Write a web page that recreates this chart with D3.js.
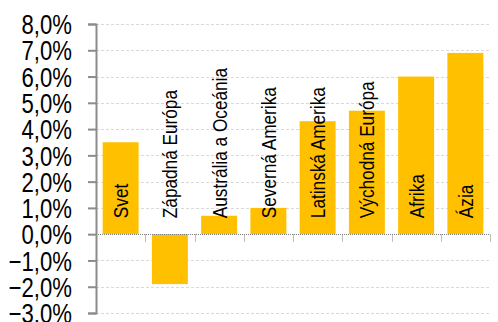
<!DOCTYPE html>
<html>
<head>
<meta charset="utf-8">
<script src="https://cdn.jsdelivr.net/npm/d3@7"></script>
<style>
  body { margin: 0; background: #fff; }
  text { font-family: "Liberation Sans", Arial, sans-serif; }
</style>
</head>
<body>
<div id="wrapper"></div>
<script>
// data
const categories = ["Svet", "Západná Európa", "Austrália a Oceánia", "Severná Amerika",
  "Latinská Amerika", "Východná Európa", "Afrika", "Ázia"]
const values = [3.5, -1.9, 0.7, 1.0, 4.3, 4.7, 6.0, 6.9]
const yTicks = [-3, -2, -1, 0, 1, 2, 3, 4, 5, 6, 7, 8]

const data = categories.map((c, i) => ({ name: c, value: values[i] }))

// narrow look of the original font
const squeeze = 0.82

const dimensions = {
  width: 498,
  height: 322,
  margins: { top: 24, right: 8, bottom: 9, left: 96 }
}
dimensions.boundedWidth = dimensions.width - dimensions.margins.left - dimensions.margins.right
dimensions.boundedHeight = dimensions.height - dimensions.margins.top - dimensions.margins.bottom

const wrapper = d3.select("#wrapper")
  .append("svg")
    .attr("width", dimensions.width)
    .attr("height", dimensions.height)

const bounds = wrapper.append("g")
  .attr("transform", `translate(${dimensions.margins.left},${dimensions.margins.top})`)

// scales
const xScale = d3.scaleBand()
  .domain(categories)
  .range([0, dimensions.boundedWidth])
  .paddingInner(0.27)
  .paddingOuter(0.135)

const yScale = d3.scaleLinear()
  .domain([-3, 8])
  .range([dimensions.boundedHeight, 0])

// gridlines
bounds.append("g")
  .selectAll("line")
  .data(yTicks.filter(d => d !== 0))
  .join("line")
    .attr("x1", 0)
    .attr("x2", dimensions.boundedWidth)
    .attr("y1", d => Math.round(yScale(d)) + 0.5)
    .attr("y2", d => Math.round(yScale(d)) + 0.5)
    .attr("stroke", "#d9d9d9")
    .attr("stroke-dasharray", "3,2")

// bars
bounds.append("g")
  .selectAll("rect")
  .data(data)
  .join("rect")
    .attr("x", d => xScale(d.name))
    .attr("width", xScale.bandwidth())
    .attr("y", d => yScale(Math.max(0, d.value)))
    .attr("height", d => Math.abs(yScale(d.value) - yScale(0)))
    .attr("fill", "#ffc000")

// zero line with category ticks
const y0 = Math.round(yScale(0)) + 0.5
bounds.append("line")
  .attr("x1", 0)
  .attr("x2", dimensions.boundedWidth)
  .attr("y1", y0)
  .attr("y2", y0)
  .attr("stroke", "#7f7f7f")
  .attr("stroke-dasharray", "1,1")

const step = xScale.step()
bounds.append("g")
  .selectAll("line")
  .data(d3.range(1, categories.length + 1))
  .join("line")
    .attr("x1", i => Math.round(i * step) + 0.5)
    .attr("x2", i => Math.round(i * step) + 0.5)
    .attr("y1", y0)
    .attr("y2", y0 + 7)
    .attr("stroke", "#7f7f7f")
    .attr("stroke-dasharray", "1,1")

// y axis
const yAxisGenerator = d3.axisLeft(yScale)
  .tickValues(yTicks)
  .tickSize(8)
  .tickFormat(d => d3.format(".1f")(d).replace(".", ",") + "%")

const yAxis = bounds.append("g")
  .call(yAxisGenerator)

yAxis.select(".domain")
  .attr("stroke", "#8c8c8c")
  .attr("stroke-width", 2)
yAxis.selectAll(".tick line")
  .attr("stroke", "#8c8c8c")
  .attr("stroke-width", 2)
yAxis.selectAll(".tick text")
  .attr("x", 0)
  .attr("transform", `translate(-24,0) scale(${squeeze},1)`)
  .attr("fill", "#000")
  .style("font-size", "27px")
  .attr("dy", "0.36em")

// bar labels
bounds.append("g")
  .selectAll("text")
  .data(data)
  .join("text")
    .attr("transform", d => `translate(${xScale(d.name) + xScale.bandwidth() / 2},${yScale(0) - 16}) rotate(-90) scale(${squeeze},1)`)
    .attr("dy", "0.36em")
    .attr("text-anchor", "start")
    .style("font-size", "21px")
    .attr("fill", "#000")
    .text(d => d.name)
</script>
</body>
</html>
